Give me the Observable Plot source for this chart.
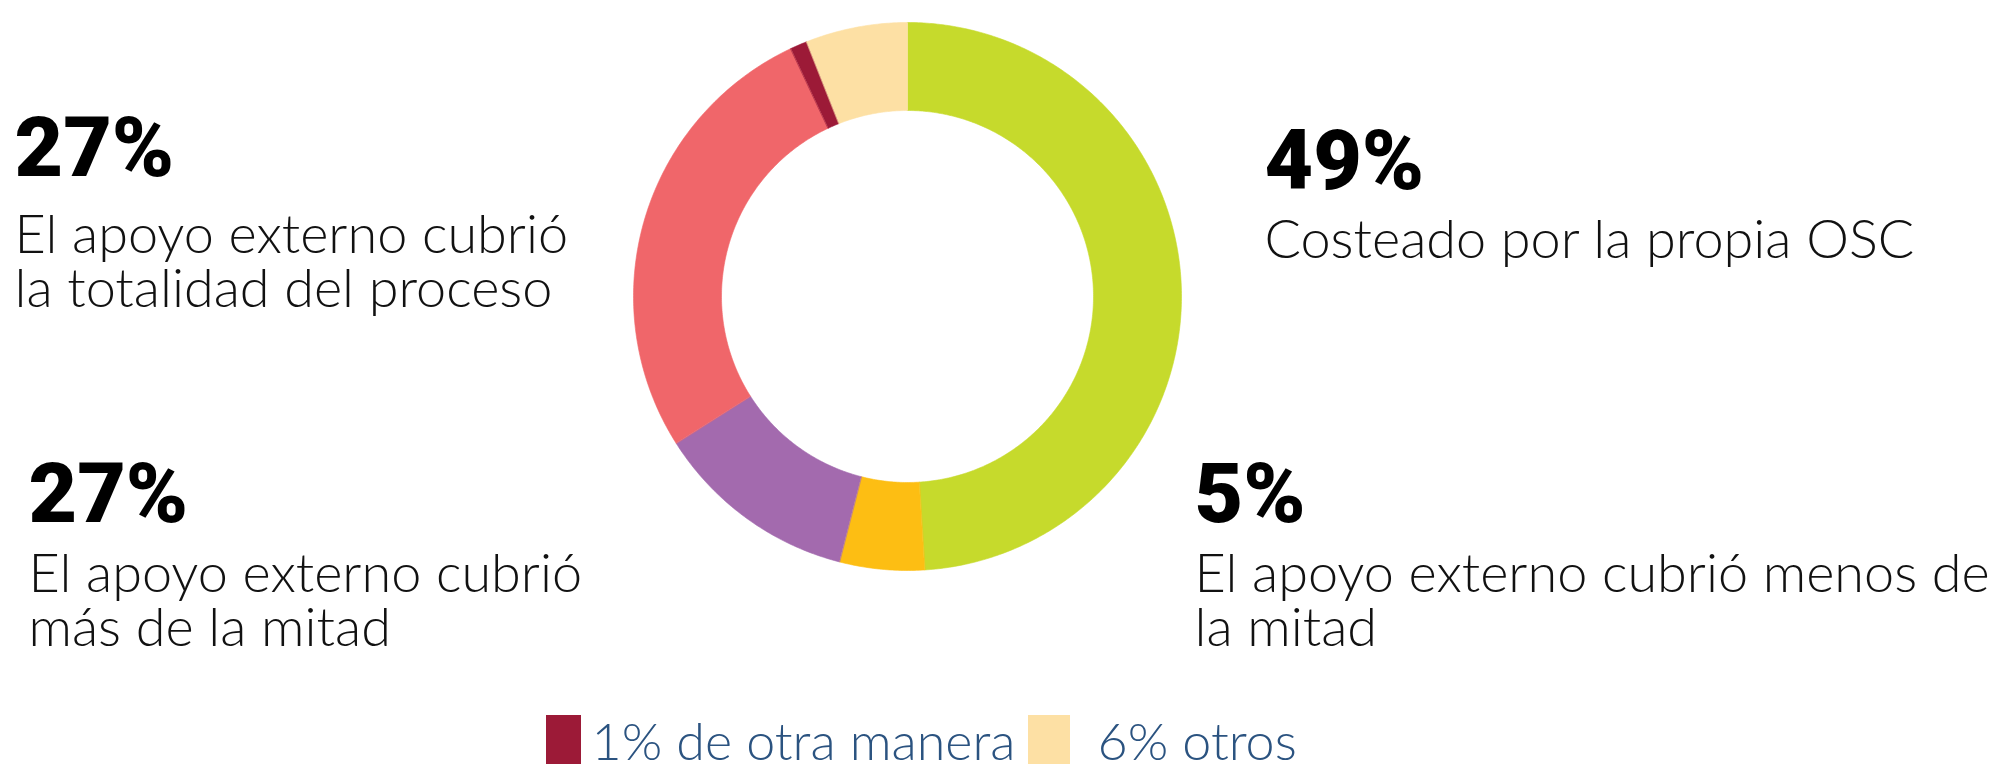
<!DOCTYPE html>
<html><head><meta charset="utf-8">
<script src="https://cdn.jsdelivr.net/npm/d3@7"></script>
<script src="https://cdn.jsdelivr.net/npm/@observablehq/plot@0.6"></script>
<style>html,body{margin:0;padding:0;background:#fff;overflow:hidden}</style>
</head><body><div id="chart"></div>
<script>
// ---- data ----
const categories = ["Costeado por la propia OSC", "El apoyo externo cubrió menos de la mitad", "El apoyo externo cubrió más de la mitad", "El apoyo externo cubrió la totalidad del proceso", "De otra manera", "Otros"];
const values = [49, 5, 12, 27, 1, 6];
const sliceColors = ["#C6DA2C", "#FDBE13", "#A36AAE", "#F0666A", "#9C1A37", "#FDE0A4"];
const calloutNumbers = ["49%", "5%", "27%", "27%"];
const calloutTexts = ["Costeado por la propia OSC", "El apoyo externo cubrió menos de\nla mitad", "El apoyo externo cubrió\nmás de la mitad", "El apoyo externo cubrió\nla totalidad del proceso"];
const legendLabels = ["1% de otra manera", "6% otros"];
const legendColors = ["#9C1A37", "#FDE0A4"];

// ---- layout ----
const W = 2002, H = 764;
const cx = 907, cy = 296, R = 274, r = 186;
const calloutPos = [
  {x: 1264, yNum: 188, yText: 257},
  {x: 1194, yNum: 521, yText: 645},
  {x: 28, yNum: 521, yText: 645},
  {x: 14, yNum: 175, yText: 306}
];
const legendPos = [{x0: 546, x1: 581, tx: 591}, {x0: 1028, x1: 1070, tx: 1097}];
const legendTop = 715, legendBaseline = 759;

// slice polygons computed from values
const total = d3.sum(values);
const slicePts = [];
let acc = 0;
values.forEach((v, i) => {
  const a0 = acc / total * 2 * Math.PI, a1 = (acc + v) / total * 2 * Math.PI;
  acc += v;
  const n = Math.max(4, Math.ceil((a1 - a0) / 0.01));
  const pts = [];
  for (let k = 0; k <= n; k++) { const a = a0 + (a1 - a0) * k / n; pts.push({a, rad: R}); }
  for (let k = n; k >= 0; k--) { const a = a0 + (a1 - a0) * k / n; pts.push({a, rad: r}); }
  pts.forEach(p => slicePts.push({key: categories[i], color: sliceColors[i], x: cx + p.rad * Math.sin(p.a), y: cy - p.rad * Math.cos(p.a)}));
});

const callouts = calloutNumbers.map((n, i) => ({num: n, text: calloutTexts[i], ...calloutPos[i]}));
const legend = legendLabels.map((l, i) => ({label: l, color: legendColors[i], ...legendPos[i]}));

const numFont = "Roboto, 'DejaVu Sans', sans-serif";
const bodyFont = "Lato, 'Open Sans', sans-serif";

const chart = Plot.plot({
  width: W, height: H,
  margin: 0,
  x: {domain: [0, W], range: [0, W], axis: null},
  y: {domain: [0, H], range: [0, H], axis: null},
  style: {background: "#fff", overflow: "visible"},
  marks: [
    Plot.line(slicePts, {x: "x", y: "y", z: "key", fill: "color", stroke: "color", strokeWidth: 0.6, curve: "linear-closed"}),
    Plot.text(callouts, {x: "x", y: "yNum", text: "num", textAnchor: "start", lineAnchor: "bottom", fontSize: 84, fontWeight: 900, fontFamily: numFont, fill: "#000"}),
    Plot.text(callouts, {x: "x", y: "yText", text: "text", textAnchor: "start", lineAnchor: "bottom", lineHeight: 1.0, fontSize: 54, fontWeight: 300, fontFamily: bodyFont, fill: "#111"}),
    Plot.rect(legend, {x1: "x0", x2: "x1", y1: () => legendTop, y2: () => H + 20, fill: "color"}),
    Plot.text(legend, {x: "tx", y: () => legendBaseline, text: "label", textAnchor: "start", lineAnchor: "bottom", fontSize: 52, fontWeight: 300, fontFamily: bodyFont, fill: "#2B5380"})
  ]
});
document.getElementById("chart").appendChild(chart);
</script>
</body></html>
